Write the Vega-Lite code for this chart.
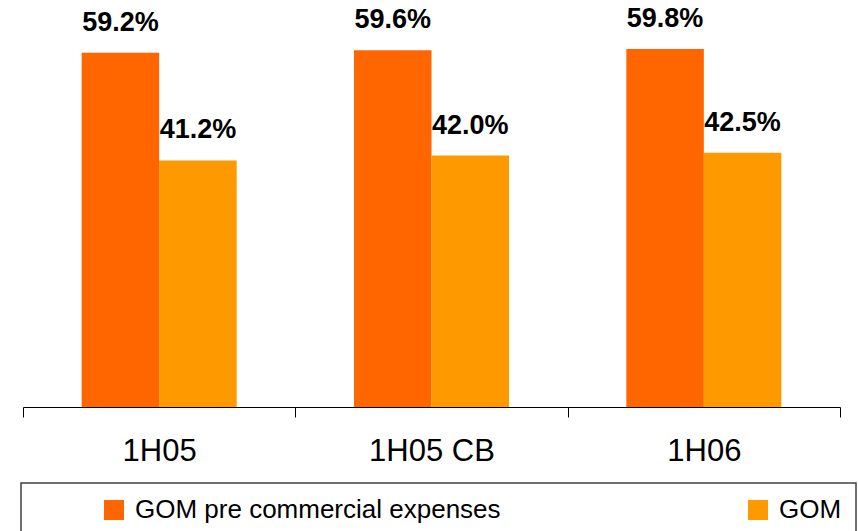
{
  "$schema": "https://vega.github.io/schema/vega-lite/v6.json",
  "width": 817,
  "height": 407,
  "autosize": {"type": "none"},
  "padding": {"left": 23, "top": 0, "right": 18, "bottom": 124},
  "background": "white",
  "data": {
    "values": [
      {"period": "1H05", "series": "GOM pre commercial expenses", "value": 59.2, "label": "59.2%"},
      {"period": "1H05", "series": "GOM", "value": 41.2, "label": "41.2%"},
      {"period": "1H05 CB", "series": "GOM pre commercial expenses", "value": 59.6, "label": "59.6%"},
      {"period": "1H05 CB", "series": "GOM", "value": 42.0, "label": "42.0%"},
      {"period": "1H06", "series": "GOM pre commercial expenses", "value": 59.8, "label": "59.8%"},
      {"period": "1H06", "series": "GOM", "value": 42.5, "label": "42.5%"}
    ]
  },
  "encoding": {
    "x": {
      "field": "period",
      "type": "nominal",
      "sort": ["1H05", "1H05 CB", "1H06"],
      "scale": {"paddingInner": 0, "paddingOuter": 0},
      "axis": {
        "title": null,
        "labelAngle": 0,
        "labelFont": "Liberation Sans",
        "labelFontSize": 31,
        "labelColor": "#000000",
        "labelPadding": 19,
        "tickSize": 10,
        "tickBand": "extent",
        "tickColor": "#000000",
        "domainColor": "#000000",
        "tickWidth": 1,
        "domainWidth": 1,
        "grid": false
      }
    },
    "xOffset": {
      "field": "series",
      "type": "nominal",
      "sort": ["GOM pre commercial expenses", "GOM"],
      "scale": {"paddingInner": 0, "paddingOuter": 0.757}
    },
    "y": {
      "field": "value",
      "type": "quantitative",
      "scale": {"domain": [0, 68], "nice": false, "zero": true},
      "axis": null
    }
  },
  "layer": [
    {
      "mark": {"type": "bar"},
      "encoding": {
        "color": {
          "field": "series",
          "type": "nominal",
          "sort": ["GOM pre commercial expenses", "GOM"],
          "scale": {"domain": ["GOM pre commercial expenses", "GOM"], "range": ["#FF6600", "#FF9900"]},
          "legend": {
            "orient": "none",
            "legendX": -2,
            "legendY": 483,
            "direction": "horizontal",
            "columns": 2,
            "title": " ",
            "titleOrient": "left",
            "titleFontSize": 1,
            "titlePadding": 66,
            "padding": 14,
            "strokeColor": "#404040",
            "symbolType": "square",
            "symbolSize": 400,
            "symbolStrokeWidth": 0,
            "symbolOpacity": 1,
            "labelFont": "Liberation Sans",
            "labelFontSize": 26,
            "labelColor": "#000000",
            "labelOffset": 8,
            "labelLimit": 600,
            "labelBaseline": "middle",
            "columnPadding": 244
          }
        }
      }
    },
    {
      "mark": {
        "type": "text",
        "baseline": "alphabetic",
        "dy": -22,
        "font": "Liberation Sans",
        "fontWeight": "bold",
        "fontSize": 27,
        "color": "#000000"
      },
      "encoding": {
        "text": {"field": "label", "type": "nominal"}
      }
    }
  ],
  "config": {
    "view": {"stroke": null},
    "legend": {"strokeWidth": 1.5}
  }
}
